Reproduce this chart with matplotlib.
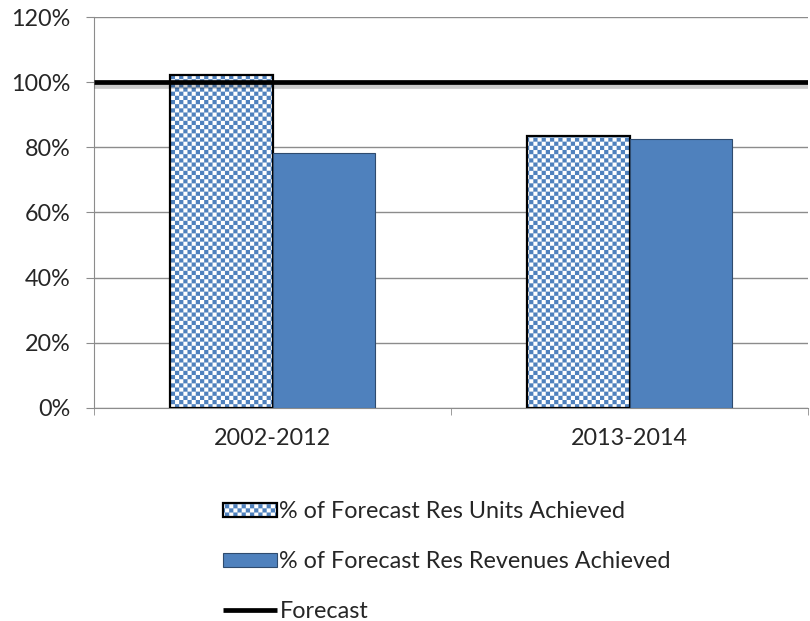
import warnings
warnings.filterwarnings("ignore")
import numpy as np
import matplotlib
matplotlib.use("Agg")
import matplotlib.pyplot as plt
import matplotlib.hatch as mhatch
import matplotlib.patheffects as pe
from matplotlib.lines import Line2D
from matplotlib.path import Path
from matplotlib.ticker import PercentFormatter

categories = ["2002-2012", "2013-2014"]
units_achieved = [1.022, 0.835]
revenues_achieved = [0.782, 0.826]
forecast = [1.0, 1.0]
labels = ["% of Forecast Res Units Achieved", "% of Forecast Res Revenues Achieved", "Forecast"]

BLUE = "#4F81BD"
TXT = "#262626"
GRID = "#8C8C8C"
FS = 16.8


class CheckerHatch(mhatch.HatchPatternBase):
    def __init__(self, hatch, density):
        self.n = 24 if "c" in hatch else 0
        if self.n:
            self.cells = [(i, j) for i in range(self.n) for j in range(self.n) if (i + j) % 2 == 0]
            self.num_vertices = len(self.cells) * 5
        else:
            self.cells = []
            self.num_vertices = 0

    def set_vertices_and_codes(self, vertices, codes):
        s = 1.0 / self.n
        k = 0
        for i, j in self.cells:
            x0, y0 = i * s, j * s
            vertices[k:k + 5] = [(x0, y0), (x0 + s, y0), (x0 + s, y0 + s), (x0, y0 + s), (x0, y0)]
            codes[k] = Path.MOVETO
            codes[k + 1:k + 4] = Path.LINETO
            codes[k + 4] = Path.CLOSEPOLY
            k += 5


mhatch._hatch_types.append(CheckerHatch)

plt.rcParams["font.family"] = ["Lato", "DejaVu Sans"]
plt.rcParams["hatch.linewidth"] = 0.05

fig = plt.figure(figsize=(8.1, 6.21), dpi=100)
ax = fig.add_axes([94 / 810, 1 - 408 / 621, (808 - 94) / 810, (408 - 17) / 621])

x = np.arange(len(categories))
w = 0.286
b1 = ax.bar(x - w / 2, units_achieved, w, color="white", edgecolor="black",
            linewidth=1.6, hatch="c", label=labels[0], zorder=3)
for p in b1:
    p._hatch_color = matplotlib.colors.to_rgba(BLUE)
b2 = ax.bar(x + w / 2, revenues_achieved, w, color=BLUE, edgecolor="#2F4B6E",
            linewidth=0.8, label=labels[1], zorder=3)

ax.set_xlim(-0.5, 1.5)
xl = ax.get_xlim()
ax.plot(xl, forecast, color="black", lw=3.4, solid_capstyle="butt", zorder=4,
        path_effects=[pe.SimpleLineShadow(offset=(0, -3), shadow_color="black", alpha=0.2),
                      pe.Normal()])
forecast_handle = Line2D([], [], color="black", lw=3.4, solid_capstyle="butt")

ax.set_ylim(0, 1.2)
ax.set_yticks(np.arange(0, 1.21, 0.2))
ax.yaxis.set_major_formatter(PercentFormatter(1.0, decimals=0))
ax.grid(axis="y", color=GRID, lw=1.0, zorder=0)
ax.set_axisbelow(True)

ax.set_xticks(x)
ax.set_xticklabels(categories)
ax.set_xticks([-0.5, 0.5, 1.5], minor=True)
ax.tick_params(axis="x", which="major", length=0, pad=14.5, labelsize=FS, labelcolor=TXT)
ax.tick_params(axis="x", which="minor", length=5, color=GRID, direction="out")
ax.tick_params(axis="y", length=6, color=GRID, pad=11, labelsize=FS, labelcolor=TXT)

for s in ["top", "right"]:
    ax.spines[s].set_visible(False)
for s in ["left", "bottom"]:
    ax.spines[s].set_color(GRID)

fig.legend([b1, b2, forecast_handle], labels, loc="upper left",
           bbox_to_anchor=(223 / 810, 1 - 501 / 621), frameon=False, fontsize=FS,
           handlelength=2.3, handleheight=0.55, handletextpad=0.12, labelspacing=1.24,
           labelcolor=TXT, borderpad=0, borderaxespad=0)

fig.savefig("out.png", dpi=100)
